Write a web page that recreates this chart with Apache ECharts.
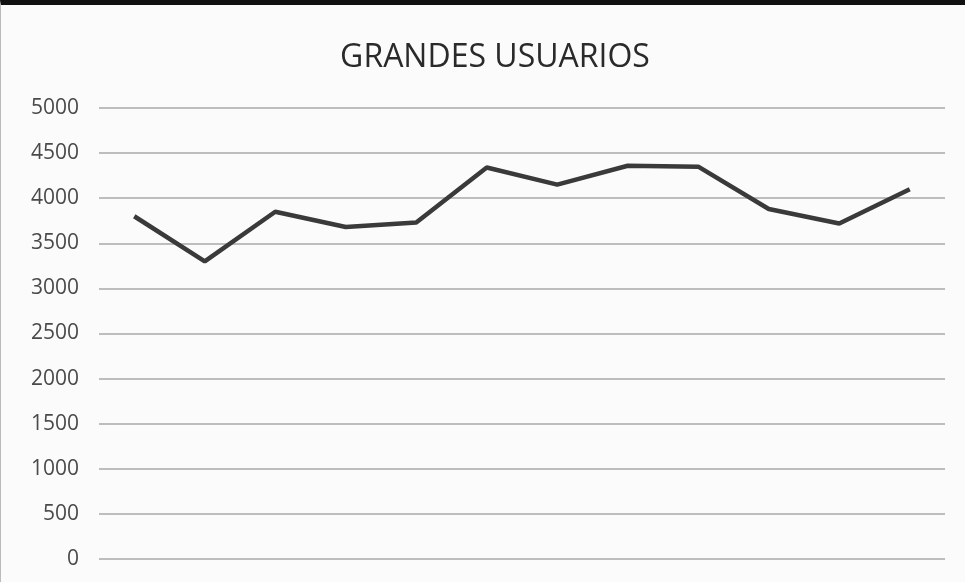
<!DOCTYPE html>
<html>
<head>
<meta charset="utf-8">
<script src="https://cdn.jsdelivr.net/npm/echarts@6/dist/echarts.min.js"></script>
<style>
  html, body { margin: 0; padding: 0; background: #fff; }
  #chart { width: 965px; height: 582px; box-sizing: border-box; border-top: 5px solid #111; border-left: 1px solid #bbb; background: #fbfbfb; }
</style>
</head>
<body>
<div id="chart"></div>
<script>
const months = ["Ene", "Feb", "Mar", "Abr", "May", "Jun", "Jul", "Ago", "Sep", "Oct", "Nov", "Dic"];
const usuarios = [3800, 3300, 3850, 3680, 3730, 4340, 4150, 4360, 4350, 3880, 3720, 4100];
const yTicks = [0, 500, 1000, 1500, 2000, 2500, 3000, 3500, 4000, 4500, 5000];

const chart = echarts.init(document.getElementById("chart"));

const option = {
  animation: false,
  title: {
    text: "GRANDES USUARIOS",
    left: 489,
    textAlign: "center",
    top: 32,
    textStyle: {
      fontFamily: "Open Sans, sans-serif",
      fontWeight: "normal",
      fontSize: 32,
      color: "#2a2a2a",
    },
  },
  grid: { left: 98, right: 20, top: 103, bottom: 23 },
  xAxis: {
    type: "category",
    data: months,
    boundaryGap: true,
    axisLine: { show: false },
    axisTick: { show: false },
    axisLabel: { show: false },
  },
  yAxis: {
    type: "value",
    min: yTicks[0],
    max: yTicks[yTicks.length - 1],
    interval: 500,
    axisLine: { show: false },
    axisTick: { show: false },
    axisLabel: {
      margin: 20,
      formatter: (v) => String(v),
      fontFamily: "Open Sans, sans-serif",
      fontSize: 21,
      color: "#4a4a4a",
    },
    splitLine: { lineStyle: { color: "#bdbdbd", width: 2 } },
  },
  series: [
    {
      name: "Grandes usuarios",
      type: "line",
      data: usuarios,
      symbol: "none",
      lineStyle: { color: "#3a3a3a", width: 4.5 },
    },
  ],
};

chart.setOption(option);
</script>
</body>
</html>
